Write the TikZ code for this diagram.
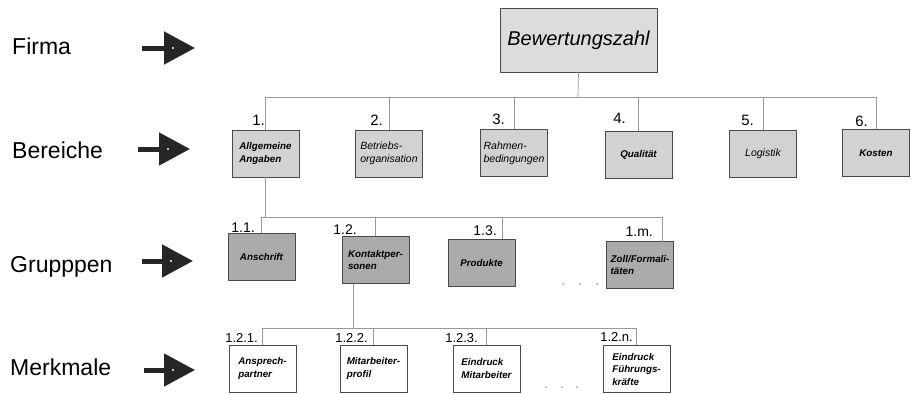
\documentclass[tikz,border=0pt]{standalone}
\usepackage{fontspec}
\setmainfont{Liberation Sans}
\usetikzlibrary{arrows.meta}
\definecolor{boxEdge}{HTML}{4A4A4A}
\definecolor{linkGray}{HTML}{9A9A9A}
\definecolor{rootGray}{HTML}{DCDCDC}
\definecolor{areaGray}{HTML}{D2D2D2}
\definecolor{groupGray}{HTML}{ABABAB}
\definecolor{arrowDark}{HTML}{262626}

\begin{document}
\begin{tikzpicture}[x=1pt, y=-1pt,
    rootStyle/.style={rectangle, draw=boxEdge, line width=0.9pt, fill=rootGray, minimum width=157pt, minimum height=64pt, font=\itshape\fontsize{20}{24}\selectfont},
    boxStyle/.style={rectangle, draw=boxEdge, line width=0.9pt, minimum width=67pt, minimum height=47pt, inner sep=1pt, align=left, font=\bfseries\itshape\fontsize{9.8}{12.5}\selectfont},
    plainText/.style={font=\itshape\fontsize{10.5}{13}\selectfont},
    areaStyle/.style={boxStyle, fill=areaGray},
    groupStyle/.style={boxStyle, fill=groupGray},
    markStyle/.style={boxStyle, fill=white},
    levelStyle/.style={anchor=base west, inner sep=0pt, font=\fontsize{23}{26}\selectfont},
    numStyle/.style={anchor=base east, inner sep=0pt, font=\fontsize{15}{18}\selectfont},
    subNumStyle/.style={numStyle, font=\fontsize{14}{16}\selectfont},
    markNumStyle/.style={numStyle, font=\fontsize{13}{15}\selectfont},
    linkStyle/.style={draw=linkGray, line width=0.7pt},
    levelArrow/.style={draw=arrowDark, line width=5pt, -{Triangle[length=31pt, width=32pt]}}]
    \useasboundingbox (0,0) rectangle (914,394);

    % levels on the left
    \node[levelStyle] (lvlFirma)    at (12, 54)  {Firma};
    \node[levelStyle] (lvlBereiche) at (12, 158) {Bereiche};
    \node[levelStyle] (lvlGruppen)  at (10, 272) {Grupppen};
    \node[levelStyle] (lvlMerkmale) at (10, 375) {Merkmale};

    \coordinate (fA) at (142, 48);  \coordinate (fB) at (195, 48);
    \coordinate (bA) at (138, 149); \coordinate (bB) at (190, 149);
    \coordinate (gA) at (142, 261); \coordinate (gB) at (193, 261);
    \coordinate (mA) at (144, 370); \coordinate (mB) at (195, 370);
    \draw[levelArrow] (fA) -- (fB);
    \draw[levelArrow] (bA) -- (bB);
    \draw[levelArrow] (gA) -- (gB);
    \draw[levelArrow] (mA) -- (mB);
    \fill[white] (173, 48) circle (1.2pt);
    \fill[white] (168, 149) circle (1.2pt);
    \fill[white] (171, 261) circle (1.2pt);
    \fill[white] (173, 370) circle (1.2pt);

    % top
    \node[rootStyle] (root) at (578.5, 40) {Bewertungszahl};

    % Bereiche
    \node[areaStyle] (b1) at (265.5, 153.5) {Allgemeine\\Angaben};
    \node[areaStyle, plainText] (b2) at (389, 153.5) {Betriebs-\\organisation};
    \node[areaStyle, plainText] (b3) at (514, 153) {Rahmen-\\bedingungen};
    \node[areaStyle] (b4) at (638.5, 154.5) {Qualität};
    \node[areaStyle, plainText] (b5) at (763, 154) {Logistik};
    \node[areaStyle] (b6) at (876, 153) {Kosten};

    \node[numStyle] (n1) at (265, 125) {1.};
    \node[numStyle] (n2) at (383, 125) {2.};
    \node[numStyle] (n3) at (505, 124) {3.};
    \node[numStyle] (n4) at (626, 123) {4.};
    \node[numStyle] (n5) at (754, 125) {5.};
    \node[numStyle] (n6) at (868, 126) {6.};

    % Gruppen
    \node[groupStyle] (g1) at (261.5, 257) {Anschrift};
    \node[groupStyle] (g2) at (375.5, 260) {Kontaktper-\\sonen};
    \node[groupStyle] (g3) at (481.5, 262.5) {Produkte};
    \node[groupStyle] (gm) at (640, 265) {Zoll/Formali-\\täten};

    \node[subNumStyle] (n11) at (255, 232) {1.1.};
    \node[subNumStyle] (n12) at (357, 234) {1.2.};
    \node[subNumStyle] (n13) at (497, 235) {1.3.};
    \node[subNumStyle] (n1m) at (653, 236) {1.m.};

    % Merkmale
    \node[markStyle] (m1) at (262.5, 368.5) {Ansprech-\\partner};
    \node[markStyle] (m2) at (373.5, 368.5) {Mitarbeiter-\\profil};
    \node[markStyle] (m3) at (486.5, 368.5) {Eindruck\\Mitarbeiter};
    \node[markStyle] (mn) at (636.5, 369) {Eindruck\\Führungs-\\kräfte};

    \node[markNumStyle] (n121) at (258, 342) {1.2.1.};
    \node[markNumStyle] (n122) at (368, 342) {1.2.2.};
    \node[markNumStyle] (n123) at (478, 342) {1.2.3.};
    \node[markNumStyle] (n12n) at (633, 341) {1.2.n.};

    % dots
    \foreach \x in {563, 580, 597} \fill[linkGray] (\x, 284) circle (1pt);
    \foreach \x in {546, 562, 577} \fill[linkGray] (\x, 387) circle (1pt);

    % connectors
    \coordinate (rootBus) at (578, 97);
    \draw[linkStyle] (root.south) -- (rootBus);
    \draw[linkStyle] (b1.north) |- (rootBus -| b6.north) -- (b6.north);
    \draw[linkStyle] (b2.north) -- (b2.north |- rootBus);
    \draw[linkStyle] (b3.north) -- (b3.north |- rootBus);
    \draw[linkStyle] (b4.north) -- (b4.north |- rootBus);
    \draw[linkStyle] (b5.north) -- (b5.north |- rootBus);

    \coordinate (areaBus) at (263, 217);
    \coordinate (g3Top) at (502, 239);
    \coordinate (gmTop) at (662, 241.5);
    \draw[linkStyle] (b1.south) -- (b1.south |- areaBus);
    \draw[linkStyle] (g1.north) |- (areaBus -| gmTop) -- (gmTop);
    \draw[linkStyle] (g2.north) -- (g2.north |- areaBus);
    \draw[linkStyle] (g3Top) -- (g3Top |- areaBus);

    \coordinate (groupBus) at (260, 328);
    \coordinate (g2Foot) at (353, 283.5);
    \draw[linkStyle] (g2Foot) -- (g2Foot |- groupBus);
    \draw[linkStyle] (m1.north) |- (groupBus -| mn.north) -- (mn.north);
    \draw[linkStyle] (m2.north) -- (m2.north |- groupBus);
    \draw[linkStyle] (m3.north) -- (m3.north |- groupBus);
\end{tikzpicture}
\end{document}
